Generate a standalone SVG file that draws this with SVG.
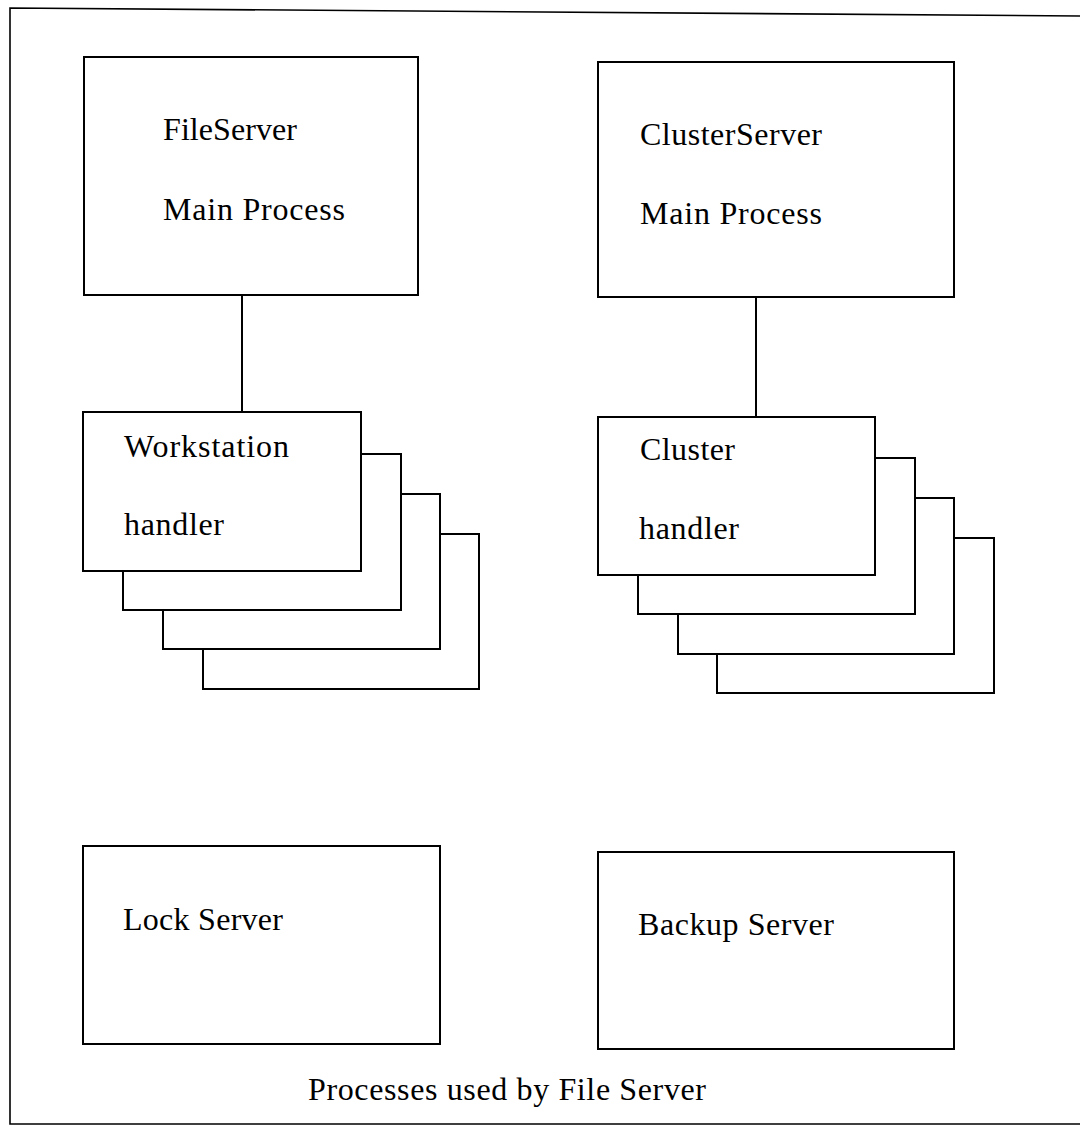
<svg xmlns="http://www.w3.org/2000/svg" width="1080" height="1126" viewBox="0 0 1080 1126">
<style>
.box{fill:#fff;stroke:#000;stroke-width:2}
.frame{fill:none;stroke:#000;stroke-width:1.6}
.ln{stroke:#000;stroke-width:2;fill:none}
text{font-family:"Liberation Serif","Times New Roman",serif;font-size:32px;fill:#000}
</style>
<rect width="1080" height="1126" fill="#fff"/>
<g id="frame">
<path class="frame" d="M1080 16 L10 8 L10 1124 L1080 1124"/>
</g>
<g id="connectors">
<line class="ln" x1="242" y1="295" x2="242" y2="412"/>
<line class="ln" x1="756" y1="297" x2="756" y2="417"/>
</g>
<g id="fileserver">
<rect class="box" x="84" y="57" width="334" height="238"/>
<text x="163" y="140" textLength="134" lengthAdjust="spacing">FileServer</text>
<text x="163" y="220" textLength="182" lengthAdjust="spacing">Main Process</text>
</g>
<g id="clusterserver">
<rect class="box" x="598" y="62" width="356" height="235"/>
<text x="640" y="145" textLength="182" lengthAdjust="spacing">ClusterServer</text>
<text x="640" y="224" textLength="182" lengthAdjust="spacing">Main Process</text>
</g>
<g id="workstation-handler">
<rect class="box" x="203" y="534" width="276" height="155"/>
<rect class="box" x="163" y="494" width="277" height="155"/>
<rect class="box" x="123" y="454" width="278" height="156"/>
<rect class="box" x="83" y="412" width="278" height="159"/>
<text x="124" y="457" textLength="165" lengthAdjust="spacing">Workstation</text>
<text x="124" y="535" textLength="100" lengthAdjust="spacing">handler</text>
</g>
<g id="cluster-handler">
<rect class="box" x="717" y="538" width="277" height="155"/>
<rect class="box" x="678" y="498" width="276" height="156"/>
<rect class="box" x="638" y="458" width="277" height="156"/>
<rect class="box" x="598" y="417" width="277" height="158"/>
<text x="640" y="460" textLength="95" lengthAdjust="spacing">Cluster</text>
<text x="639" y="539" textLength="100" lengthAdjust="spacing">handler</text>
</g>
<g id="lockserver">
<rect class="box" x="83" y="846" width="357" height="198"/>
<text x="123" y="930" textLength="160" lengthAdjust="spacing">Lock Server</text>
</g>
<g id="backupserver">
<rect class="box" x="598" y="852" width="356" height="197"/>
<text x="638" y="935" textLength="196" lengthAdjust="spacing">Backup Server</text>
</g>
<g id="caption">
<text x="308" y="1100" textLength="398" lengthAdjust="spacing">Processes used by File Server</text>
</g>
</svg>
